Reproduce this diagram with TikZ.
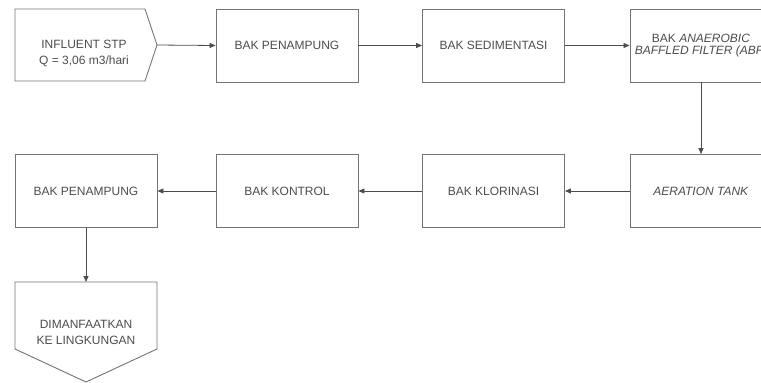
\documentclass[tikz,border=0pt]{standalone}
\usepackage{fontspec}
\setmainfont{Liberation Sans}
\usetikzlibrary{arrows.meta}
\begin{document}
\begin{tikzpicture}[x=1pt,y=-1pt,
  box/.style={draw=black!55,line width=0.9pt,minimum width=142pt,minimum height=73pt,inner sep=0pt,
    align=center,font=\fontsize{12}{14}\selectfont,text=black!70},
  shp/.style={draw=black!55,line width=0.9pt},
  lbl/.style={align=center,font=\fontsize{12}{16}\selectfont,text=black!70,inner sep=0pt},
  conn/.style={draw=black!70,line width=0.8pt,-{Triangle[length=6pt,width=5pt]}}]
\useasboundingbox (0,0) rectangle (761,383);
\clip (0,0) rectangle (761,383);
% influent pentagon
\draw[shp] (15,9) -- (145,9) -- (157,45) -- (145,81) -- (15,81) -- cycle;
\node[lbl] (inf) at (84,53) {INFLUENT STP\\Q = 3,06 m3/hari};
\coordinate (inftip) at (157,45);
% top row
\node[box] (pen1) at (287,45.5) {BAK PENAMPUNG};
\node[box] (sed) at (493.5,45.5) {BAK SEDIMENTASI};
\node[box,font=\fontsize{12}{12.5}\selectfont] (abf) at (701,45.5) {BAK \textit{ANAEROBIC}\\\textit{BAFFLED FILTER (ABF)}};
% second row
\node[box] (aer) at (701,191) {\textit{AERATION TANK}};
\node[box] (klo) at (493.5,191) {BAK KLORINASI};
\node[box] (kon) at (287,191) {BAK KONTROL};
\node[box] (pen2) at (86,191) {BAK PENAMPUNG};
% output pentagon
\draw[shp] (15,282) -- (157,282) -- (157,349) -- (86,382) -- (15,349) -- cycle;
\node[lbl] (out) at (86,332) {DIMANFAATKAN\\KE LINGKUNGAN};
\coordinate (outtop) at (86,282);
% connectors
\draw[conn] (inftip) -- (pen1.west);
\draw[conn] (pen1.east) -- (sed.west);
\draw[conn] (sed.east) -- (abf.west);
\draw[conn] (abf.south) -- (aer.north);
\draw[conn] (aer.west) -- (klo.east);
\draw[conn] (klo.west) -- (kon.east);
\draw[conn] (kon.west) -- (pen2.east);
\draw[conn] (pen2.south) -- (outtop);
\end{tikzpicture}
\end{document}
